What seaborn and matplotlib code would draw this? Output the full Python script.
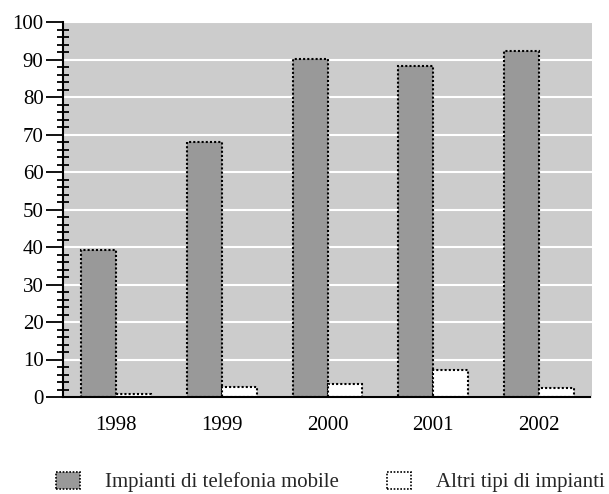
import matplotlib
matplotlib.use("Agg")
import matplotlib.pyplot as plt
import seaborn as sns
import pandas as pd
from matplotlib.ticker import MultipleLocator
from matplotlib.patches import Patch

years = ["1998", "1999", "2000", "2001", "2002"]
mobile = [39.3, 68.0, 90.1, 88.2, 92.3]
altri = [0.8, 2.6, 3.5, 7.3, 2.5]
series_names = ["Impianti di telefonia mobile", "Altri tipi di impianti"]
yticks = [0, 10, 20, 30, 40, 50, 60, 70, 80, 90, 100]

df = pd.DataFrame({
    "anno": years * 2,
    "valore": mobile + altri,
    "serie": [series_names[0]] * len(years) + [series_names[1]] * len(years),
})

sns.set_theme(style="white")
plt.rcParams["font.family"] = ["Liberation Serif", "DejaVu Serif"]

fig = plt.figure(figsize=(6.09, 4.94), dpi=100)
ax = fig.add_axes([63 / 609, 1 - 397 / 494, (592 - 63) / 609, (397 - 22) / 494])

sns.barplot(data=df, x="anno", y="valore", hue="serie", order=years,
            hue_order=series_names, palette=["#999999", "#ffffff"],
            width=0.66, gap=0, ax=ax, legend=False, zorder=3,
            edgecolor="black", linewidth=1.5, linestyle=(0, (1, 1)))

ax.set_facecolor("#cccccc")
ax.set_ylim(0, 100)
ax.set_xlim(-0.5, len(years) - 0.5)
ax.set_yticks(yticks)
ax.yaxis.set_minor_locator(MultipleLocator(2))
ax.grid(axis="y", color="white", linewidth=1.5, zorder=0)
ax.set_axisbelow(True)
ax.set_xlabel("")
ax.set_ylabel("")

for s in ["top", "right"]:
    ax.spines[s].set_visible(False)
for s in ["left", "bottom"]:
    ax.spines[s].set_color("black")
    ax.spines[s].set_linewidth(1.5)
    ax.spines[s].set_linestyle((0, (1, 1)))
    ax.spines[s].set_zorder(5)

ax.tick_params(axis="y", which="major", direction="out", length=12, width=1.3,
               color="black", labelsize=15, pad=2, left=True)
ax.tick_params(axis="y", which="minor", direction="inout", length=8.5, width=1.3,
               color="black", left=True)
ax.tick_params(axis="x", which="both", length=0, labelsize=15, pad=14)
for lbl in ax.get_xticklabels() + ax.get_yticklabels():
    lbl.set_color("black")

handles = [Patch(facecolor="#999999", edgecolor="black", linestyle=(0, (1, 1)), linewidth=1.2),
           Patch(facecolor="#ffffff", edgecolor="black", linestyle=(0, (1, 1)), linewidth=1.2)]
fig.legend(handles, series_names, loc="center left", bbox_to_anchor=(56 / 609, 1 - 482 / 494),
           ncol=2, frameon=False, fontsize=15, handlelength=1.15, handleheight=0.87,
           handletextpad=1.2, columnspacing=2.3, borderpad=0, borderaxespad=0)

fig.savefig("out.png", dpi=100, facecolor="white")
